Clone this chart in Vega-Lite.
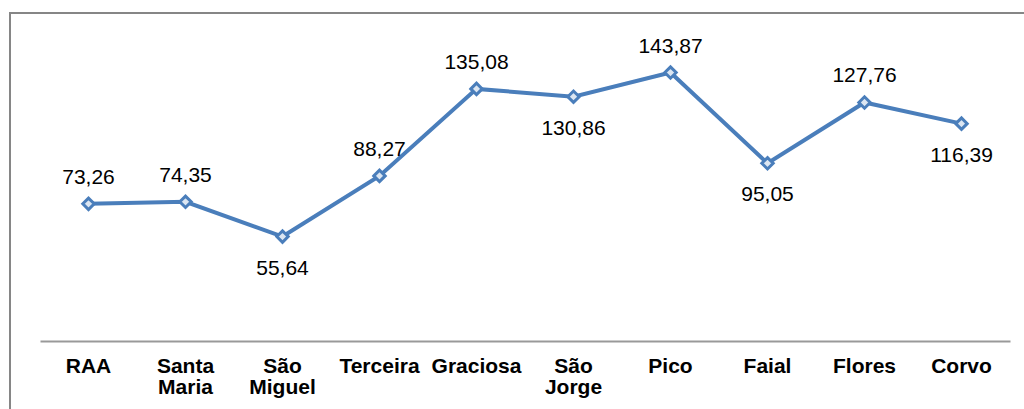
{
  "$schema": "https://vega.github.io/schema/vega-lite/v6.json",
  "width": 1030,
  "height": 400,
  "autosize": {"type": "none"},
  "padding": {"left": 10, "top": 13, "right": 0, "bottom": 0},
  "background": "white",
  "config": {
    "view": {"stroke": "#868686", "strokeWidth": 2},
    "font": "Liberation Sans"
  },
  "data": {
    "values": [
      {"ilha": "RAA", "valor": 73.26, "label": "73,26", "pos": "above"},
      {"ilha": "Santa Maria", "valor": 74.35, "label": "74,35", "pos": "above"},
      {"ilha": "São Miguel", "valor": 55.64, "label": "55,64", "pos": "below"},
      {"ilha": "Terceira", "valor": 88.27, "label": "88,27", "pos": "above"},
      {"ilha": "Graciosa", "valor": 135.08, "label": "135,08", "pos": "above"},
      {"ilha": "São Jorge", "valor": 130.86, "label": "130,86", "pos": "below"},
      {"ilha": "Pico", "valor": 143.87, "label": "143,87", "pos": "above"},
      {"ilha": "Faial", "valor": 95.05, "label": "95,05", "pos": "below"},
      {"ilha": "Flores", "valor": 127.76, "label": "127,76", "pos": "above"},
      {"ilha": "Corvo", "valor": 116.39, "label": "116,39", "pos": "below"}
    ]
  },
  "encoding": {
    "x": {
      "field": "ilha",
      "type": "nominal",
      "sort": null,
      "scale": {"type": "band", "range": [30, 1000], "paddingInner": 0, "paddingOuter": 0},
      "axis": {
        "title": null,
        "orient": "bottom",
        "offset": -72,
        "domainColor": "#999999",
        "domainWidth": 2,
        "ticks": false,
        "labelAngle": 0,
        "labelFont": "Liberation Sans",
        "labelFontSize": 21,
        "labelFontWeight": "bold",
        "labelColor": "#000000",
        "labelPadding": 14,
        "labelLineHeight": 21,
        "labelExpr": "split(datum.label, ' ')",
        "grid": false
      }
    },
    "y": {
      "field": "valor",
      "type": "quantitative",
      "scale": {"domain": [-39.27, 175.9], "nice": false, "zero": false},
      "axis": null
    }
  },
  "layer": [
    {
      "mark": {"type": "line", "color": "#4a7ebb", "strokeWidth": 4}
    },
    {
      "mark": {"type": "point", "shape": "diamond", "filled": true, "fill": "#dce6f2", "stroke": "#4a7ebb", "strokeWidth": 3, "size": 130, "opacity": 1}
    },
    {
      "transform": [{"filter": "datum.pos == 'above'"}],
      "mark": {"type": "text", "fontSize": 21, "color": "#000000", "baseline": "middle", "dy": -26, "font": "Liberation Sans"},
      "encoding": {"text": {"field": "label"}}
    },
    {
      "transform": [{"filter": "datum.pos == 'below'"}],
      "mark": {"type": "text", "fontSize": 21, "color": "#000000", "baseline": "middle", "dy": 32, "font": "Liberation Sans"},
      "encoding": {"text": {"field": "label"}}
    }
  ]
}
